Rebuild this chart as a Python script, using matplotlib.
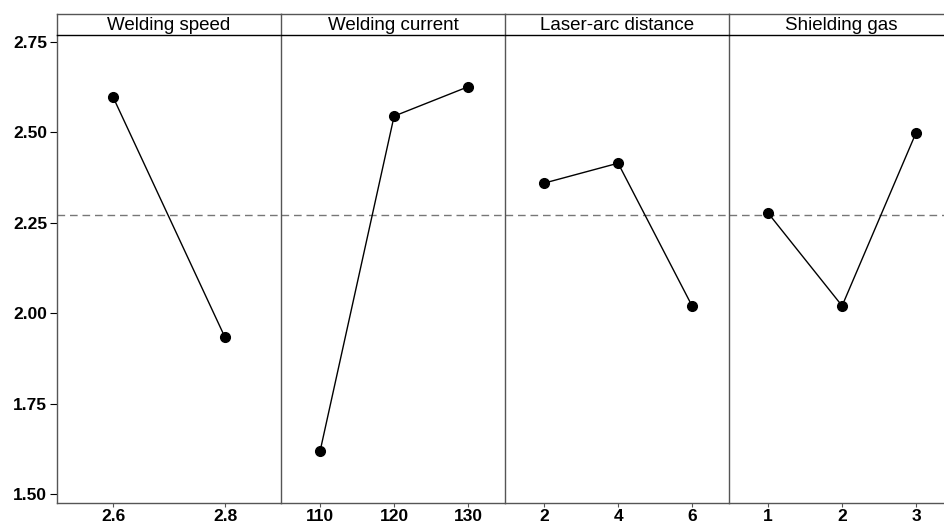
import matplotlib
matplotlib.use('Agg')
import matplotlib.pyplot as plt

# factor names and levels
factors = ['Welding speed', 'Welding current', 'Laser-arc distance', 'Shielding gas']
speed_levels = ['2.6', '2.8']
speed_means = [2.597, 1.933]
current_levels = ['110', '120', '130']
current_means = [1.62, 2.544, 2.625]
distance_levels = ['2', '4', '6']
distance_means = [2.359, 2.414, 2.02]
gas_levels = ['1', '2', '3']
gas_means = [2.276, 2.02, 2.498]
grand_mean = 2.27

y_ticks = [1.50, 1.75, 2.00, 2.25, 2.50, 2.75]
y_min, y_max = 1.477, 2.768

levels = [speed_levels, current_levels, distance_levels, gas_levels]
means = [speed_means, current_means, distance_means, gas_means]

fig = plt.figure(figsize=(9.44, 5.25), dpi=100)

W, H = 944, 525
left_px, panel_px = 57, 224
bottom_px, header_px, top_px = 502.5, 35, 14
frame_col = '#555555'

tick_font = dict(family='Liberation Sans', weight='bold', size=12.5)

for i, (name, lv, mv) in enumerate(zip(factors, levels, means)):
    x0 = (left_px + i * panel_px) / W
    w = panel_px / W
    ax = fig.add_axes([x0, 1 - bottom_px / H, w, (bottom_px - header_px) / H])
    xs = list(range(len(lv)))
    ax.axhline(grand_mean, color='#777777', lw=1.0, dashes=(5.5, 3.5), zorder=1)
    ax.plot(xs, mv, color='black', lw=1.0, marker='o', markersize=7, zorder=3)
    if len(lv) == 2:
        ax.set_xlim(-0.5, 1.5)
    else:
        ax.set_xlim(-0.53, 2.5)
    ax.set_ylim(y_min, y_max)
    ax.set_xticks(xs)
    ax.set_xticklabels(lv, fontdict=tick_font)
    ax.tick_params(axis='x', length=3, width=0.8, color=frame_col, pad=2)
    if i == 0:
        ax.set_yticks(y_ticks)
        ax.set_yticklabels([f'{v:.2f}' for v in y_ticks], fontdict=tick_font)
        ax.tick_params(axis='y', length=5, width=0.8, color='black', pad=2)
    else:
        ax.set_yticks([])
    for s in ['top', 'right']:
        ax.spines[s].set_visible(False)
    ax.spines['left'].set_color(frame_col)
    ax.spines['left'].set_linewidth(1.0)
    ax.spines['bottom'].set_color(frame_col)
    ax.spines['bottom'].set_linewidth(1.0)

    # header strip with factor name
    hx = fig.add_axes([x0, 1 - header_px / H, w, (header_px - top_px) / H])
    hx.set_xticks([])
    hx.set_yticks([])
    hx.spines['right'].set_visible(False)
    for s in ['top', 'left']:
        hx.spines[s].set_color(frame_col)
        hx.spines[s].set_linewidth(1.0)
    hx.spines['bottom'].set_color('black')
    hx.spines['bottom'].set_linewidth(1.0)
    hx.text(0.5, 0.45, name, transform=hx.transAxes, ha='center', va='center',
            family='Liberation Sans', fontsize=13.5)

fig.savefig('out.png', dpi=100)
